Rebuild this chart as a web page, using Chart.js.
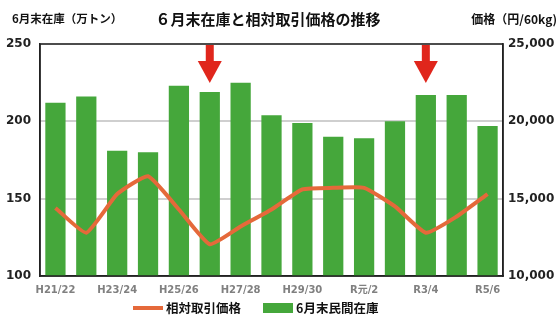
<!DOCTYPE html>
<html>
<head>
<meta charset="utf-8">
<script src="https://cdn.jsdelivr.net/npm/chart.js@4"></script>
<style>
  html, body { margin: 0; padding: 0; background: #fff; }
  #wrap { width: 560px; height: 318px; }
</style>
</head>
<body>
<div id="wrap"><canvas id="graph1" width="560" height="318"></canvas></div>
<script>
const labels = ['H21/22','H22/23','H23/24','H24/25','H25/26','H26/27','H27/28','H28/29',
                'H29/30','H30/R元','R元/2','R2/3','R3/4','R4/5','R5/6'];
const stock = [212, 216, 181, 180, 223, 219, 225, 204, 199, 190, 189, 200, 217, 217, 197];
const price = [14400, 12800, 15300, 16450, 14300, 12050, 13200, 14300, 15600, 15700, 15700, 14500, 12800, 13850, 15300];
const leftTicks = [100, 150, 200, 250];
const rightTicks = [10000, 15000, 20000, 25000];
const arrowAt = [5, 12];

const FONT = '"DejaVu Sans", "Noto Sans CJK JP", sans-serif';
const JP = '"Noto Sans CJK JP", sans-serif';

// 枠・タイトル・矢印・凡例
const decor = {
    id: 'decor',
    afterDatasetsDraw(chart) {
        const {ctx, chartArea: a, scales} = chart;
        const ds = chart.data.datasets;
        ctx.save();
        ctx.strokeStyle = '#222';
        ctx.lineWidth = 1.5;
        ctx.strokeRect(a.left, a.top, a.right - a.left, a.bottom - a.top);

        ctx.fillStyle = '#e0261c';
        arrowAt.forEach(i => {
            const x = scales.x.getPixelForValue(i);
            ctx.fillRect(x - 4, a.top + 1, 8, 18);
            ctx.beginPath();
            ctx.moveTo(x - 12, a.top + 17);
            ctx.lineTo(x + 12, a.top + 17);
            ctx.lineTo(x, a.top + 39);
            ctx.closePath();
            ctx.fill();
        });

        ctx.fillStyle = '#111';
        ctx.textBaseline = 'middle';
        ctx.font = 'bold 15px ' + JP;
        ctx.textAlign = 'center';
        ctx.fillText('６月末在庫と相対取引価格の推移', 268, 19);
        ctx.font = 'bold 11.5px ' + JP;
        ctx.textAlign = 'left';
        ctx.fillText('6月末在庫（万トン）', 12, 19);
        ctx.font = 'bold 12px ' + JP;
        ctx.textAlign = 'right';
        ctx.fillText('価格（円/60kg)', 557, 19);

        // 凡例
        const ly = 308;
        ctx.textAlign = 'left';
        ctx.font = 'bold 12.5px ' + JP;
        ctx.fillStyle = ds[0].borderColor;
        ctx.fillRect(133, ly - 2, 30, 4);
        ctx.fillStyle = '#111';
        ctx.fillText(ds[0].label, 166, ly);
        ctx.fillStyle = ds[1].backgroundColor;
        ctx.fillRect(263, ly - 5, 30, 10);
        ctx.fillStyle = '#111';
        ctx.fillText(ds[1].label, 296, ly);
        ctx.restore();
    }
};

const config = {
    data: {
        labels: labels,
        datasets: [
            {
                type: 'line',
                label: '相対取引価格',
                data: price,
                yAxisID: 'y1',
                borderColor: '#e5693a',
                backgroundColor: '#e5693a',
                borderWidth: 4,
                pointRadius: 0,
                tension: 0.15,
                order: 0,
            },
            {
                type: 'bar',
                label: '6月末民間在庫',
                data: stock,
                yAxisID: 'y',
                backgroundColor: '#45a73b',
                categoryPercentage: 0.8,
                barPercentage: 0.82,
                order: 1,
            }
        ]
    },
    options: {
        responsive: false,
        animation: false,
        layout: { padding: { top: 44, left: 0, right: 0, bottom: 22 } },
        scales: {
            x: {
                grid: { display: false },
                border: { color: '#222', width: 1.5 },
                ticks: {
                    autoSkip: false,
                    maxRotation: 0,
                    padding: 0,
                    color: '#808080',
                    font: { size: 10, weight: 'bold', family: FONT },
                    callback: function(value, index) {
                        return index % 2 === 0 ? labels[index] : '';
                    }
                }
            },
            y: {
                position: 'left',
                min: 100,
                max: 250,
                afterBuildTicks: axis => { axis.ticks = leftTicks.map(v => ({value: v})); },
                afterFit: axis => { axis.width = 40; },
                grid: { color: '#cfcfcf', lineWidth: 2, drawTicks: false },
                border: { color: '#222', width: 1.5 },
                ticks: {
                    padding: 9,
                    color: '#222',
                    font: { size: 12, weight: 'bold', family: FONT },
                }
            },
            y1: {
                position: 'right',
                min: 10000,
                max: 25000,
                afterBuildTicks: axis => { axis.ticks = rightTicks.map(v => ({value: v})); },
                afterFit: axis => { axis.width = 57; },
                grid: { display: false, drawTicks: false },
                border: { color: '#222', width: 1.5 },
                ticks: {
                    padding: 5,
                    color: '#222',
                    font: { size: 12, weight: 'bold', family: FONT },
                    callback: v => v.toLocaleString('en-US')
                }
            }
        },
        plugins: {
            legend: { display: false },
            tooltip: { enabled: false }
        }
    },
    plugins: [decor]
};

const myChart = new Chart(document.getElementById('graph1'), config);
</script>
</body>
</html>
